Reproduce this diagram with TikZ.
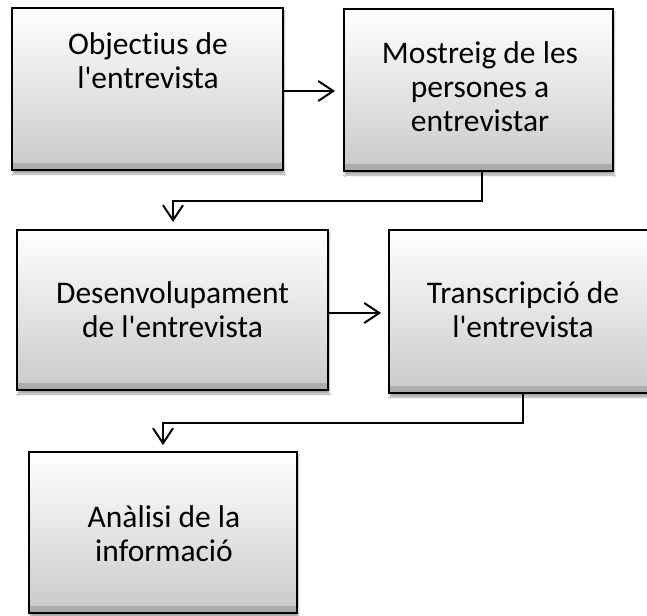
\documentclass[tikz,border=0pt]{standalone}
\usepackage{fontspec}
\setmainfont{Carlito}[Ligatures={CommonOff}]
\usetikzlibrary{arrows.meta,shadows.blur,calc}
\begin{document}
\begin{tikzpicture}[x=1pt,y=-1pt,
  box/.style={draw=black, line width=2pt, rectangle, inner sep=0pt,
    top color=white, bottom color=black!21,
    blur shadow={shadow xshift=1pt, shadow yshift=-4pt, shadow opacity=35, shadow blur steps=6},
    path picture={\shade[top color=black!21, bottom color=black!33]
      ([yshift=7pt]path picture bounding box.south west) rectangle (path picture bounding box.south east);}},
  lbl/.style={anchor=base, inner sep=0pt, font=\fontsize{31.5}{34}\selectfont},
  conn/.style={draw=black, line width=2pt, -{Straight Barb[length=15pt,width=20pt]}}
]
\clip (0,0) rectangle (647,615);
\fill[white] (0,0) rectangle (647,615);
% boxes
\node[box, minimum width=271pt, minimum height=162pt] (b1) at (147.5,89) {};
\node[box, minimum width=269pt, minimum height=162pt] (b2) at (478.5,90) {};
\node[box, minimum width=311pt, minimum height=160pt] (b3) at (172.5,310) {};
\node[box, minimum width=268pt, minimum height=163pt] (b4) at (523,311.5) {};
\node[box, minimum width=268pt, minimum height=161pt] (b5) at (163,532.5) {};
% texts
\node[lbl] (t1) at (148,55) {\begin{tabular}[t]{@{}c@{}}Objectius de\\l\textquotesingle entrevista\end{tabular}};
\node[lbl] (t2) at (480,64) {\begin{tabular}[t]{@{}c@{}}Mostreig de les\\persones a\\entrevistar\end{tabular}};
\node[lbl] (t3) at (172.5,303) {\begin{tabular}[t]{@{}c@{}}Desenvolupament\\de l\textquotesingle entrevista\end{tabular}};
\node[lbl] (t4) at (523,303) {\begin{tabular}[t]{@{}c@{}}Transcripció de\\l\textquotesingle entrevista\end{tabular}};
\node[lbl] (t5) at (164,527) {\begin{tabular}[t]{@{}c@{}}Anàlisi de la\\informació\end{tabular}};
% connectors
\coordinate (a1) at (0,91);
\coordinate (a2) at (0,313);
\coordinate (k1) at (482,201);
\coordinate (k2) at (173,201);
\coordinate (k3) at (523,423);
\coordinate (k4) at (163,423);
\draw[conn, shorten >=8pt] (b1.east |- a1) -- (b2.west |- a1);
\draw[conn, shorten >=7pt] (b3.east |- a2) -- (b4.west |- a2);
\draw[conn, shorten >=7pt] (b2.south -| k1) -- (k1) -- (k2) -- (b3.north -| k2);
\draw[conn, shorten >=6pt] (b4.south -| k3) -- (k3) -- (k4) -- (b5.north -| k4);
\end{tikzpicture}
\end{document}
